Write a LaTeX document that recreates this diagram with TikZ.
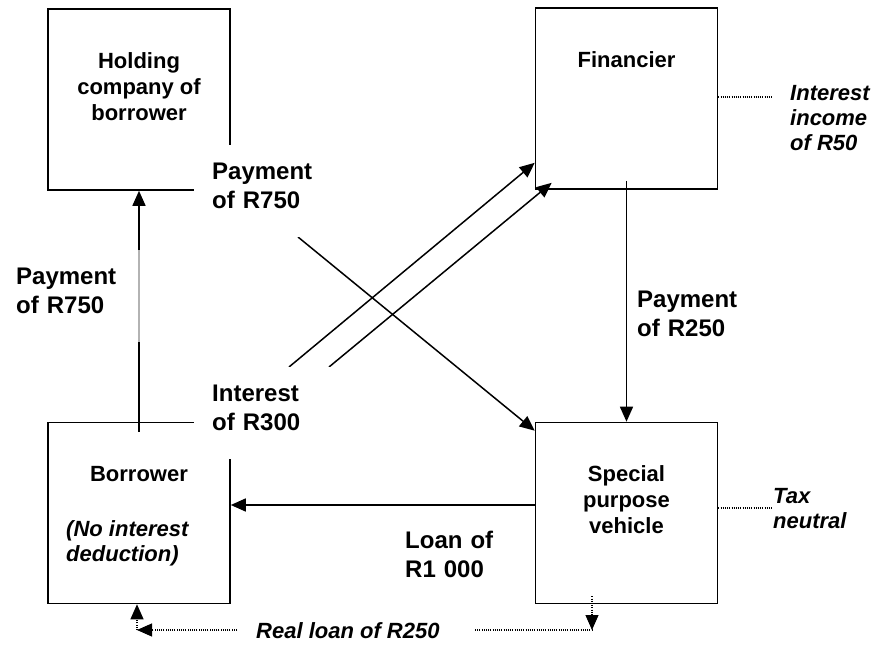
\documentclass[tikz,border=0pt]{standalone}
\usepackage{fontspec}
\setmainfont{Liberation Sans}
\usetikzlibrary{arrows.meta,calc,positioning}

\tikzset{
  firm/.style={draw, line width=1.6pt, minimum width=182pt, minimum height=181pt, inner sep=0pt},
  firmname/.style={inner sep=0pt, align=center, font=\fontsize{22}{26}\selectfont\bfseries},
  flow/.style={inner xsep=18pt, inner ysep=18pt, text width=109pt, text depth=39pt, align=left, fill=white, font=\fontsize{24}{29}\selectfont\bfseries},
  remark/.style={inner sep=0pt, align=left, font=\fontsize{22}{25}\selectfont\bfseries\itshape},
  pay/.style={->, line width=1.5pt},
  hint/.style={line width=1.1pt, dash pattern=on 1pt off 1.2pt},
}

\begin{document}
\begin{tikzpicture}[x=1pt, y=-1pt, >={Triangle[length=15pt,width=13pt]}]
\useasboundingbox (0,0) rectangle (879,646);
% the four parties
\node[firm] (holding) at (139,99.5) {};
\node[firm] (financier) at (626.5,98.5) {};
\node[firm] (borrower) at (139,513) {};
\node[firm] (spv) at (626.5,513) {};
\node[firmname, below=44pt of holding.north] (holdingtxt) {Holding\\company of\\borrower};
\node[firmname, below=44pt of financier.north] (financiertxt) {Financier};
\node[firmname, below=44pt of borrower.north] (borrowertxt) {Borrower};
\node[firmname, below=44pt of spv.north] (spvtxt) {Special\\purpose\\vehicle};
\node[remark, anchor=north west] (borrowernote) at (66,520) {(No interest\\deduction)};

% cash flows
\coordinate (int1) at (289,367);
\coordinate (int2) at (329,367);
\coordinate (pay1) at (298,237);
\draw[pay] ($(borrower.north)+(0,10)$) -- (holding.south);
\draw[pay] ($(financier.south)+(0,-9)$) -- (spv.north);
\draw[pay] ($(spv.west)+(0,-8)$) -- ($(borrower.east)+(0,-8)$);
\draw[pay] (int1) -- ($(financier.south west)+(0,-27)$);
\draw[pay] (int2) -- ($(financier.south west)+(17,-7)$);
\draw[pay] (pay1) -- ($(spv.north west)+(0,9)$);

% tax remarks
\coordinate (incomeend) at (772,97);
\coordinate (taxend) at (772,508);
\draw[hint] (financier.east |- incomeend) -- (incomeend);
\draw[hint] (spv.east |- taxend) -- (taxend);
\node[remark, anchor=north west] (income) at (790,85) {Interest\\income\\of R50};
\node[remark, anchor=north west] (taxneutral) at (773,488) {Tax\\neutral};

% real loan
\coordinate (loanleft) at (137,630);
\coordinate (loanright) at (592,630);
\coordinate (lstart) at (237,630);
\coordinate (rstart) at (475,630);
\node[remark, anchor=north west] (realloan) at (256,622) {Real loan of R250};
\draw[hint,->] (lstart) -- (loanleft);
\draw[hint,->] (loanleft) -- (borrower.south -| loanleft);
\draw[hint] (rstart) -- (loanright);
\draw[hint,->] ($(spv.south -| loanright)+(0,-8)$) -- (loanright);

% labels on the flows
\node[flow, anchor=north west] (paytop) at (194,145) {Payment\\of R750};
\node[flow, anchor=north west, fill opacity=0.7, text opacity=1] (payleft) at (-2,250) {Payment\\of R750};
\node[flow, anchor=north west] (interest) at (194,367) {Interest\\of R300};
\node[flow, anchor=north west, fill=none] (payright) at (619,273) {Payment\\of R250};
\node[flow, anchor=north west, fill=none] (loan) at (387,513) {Loan of\\R1 000};
\end{tikzpicture}
\end{document}
